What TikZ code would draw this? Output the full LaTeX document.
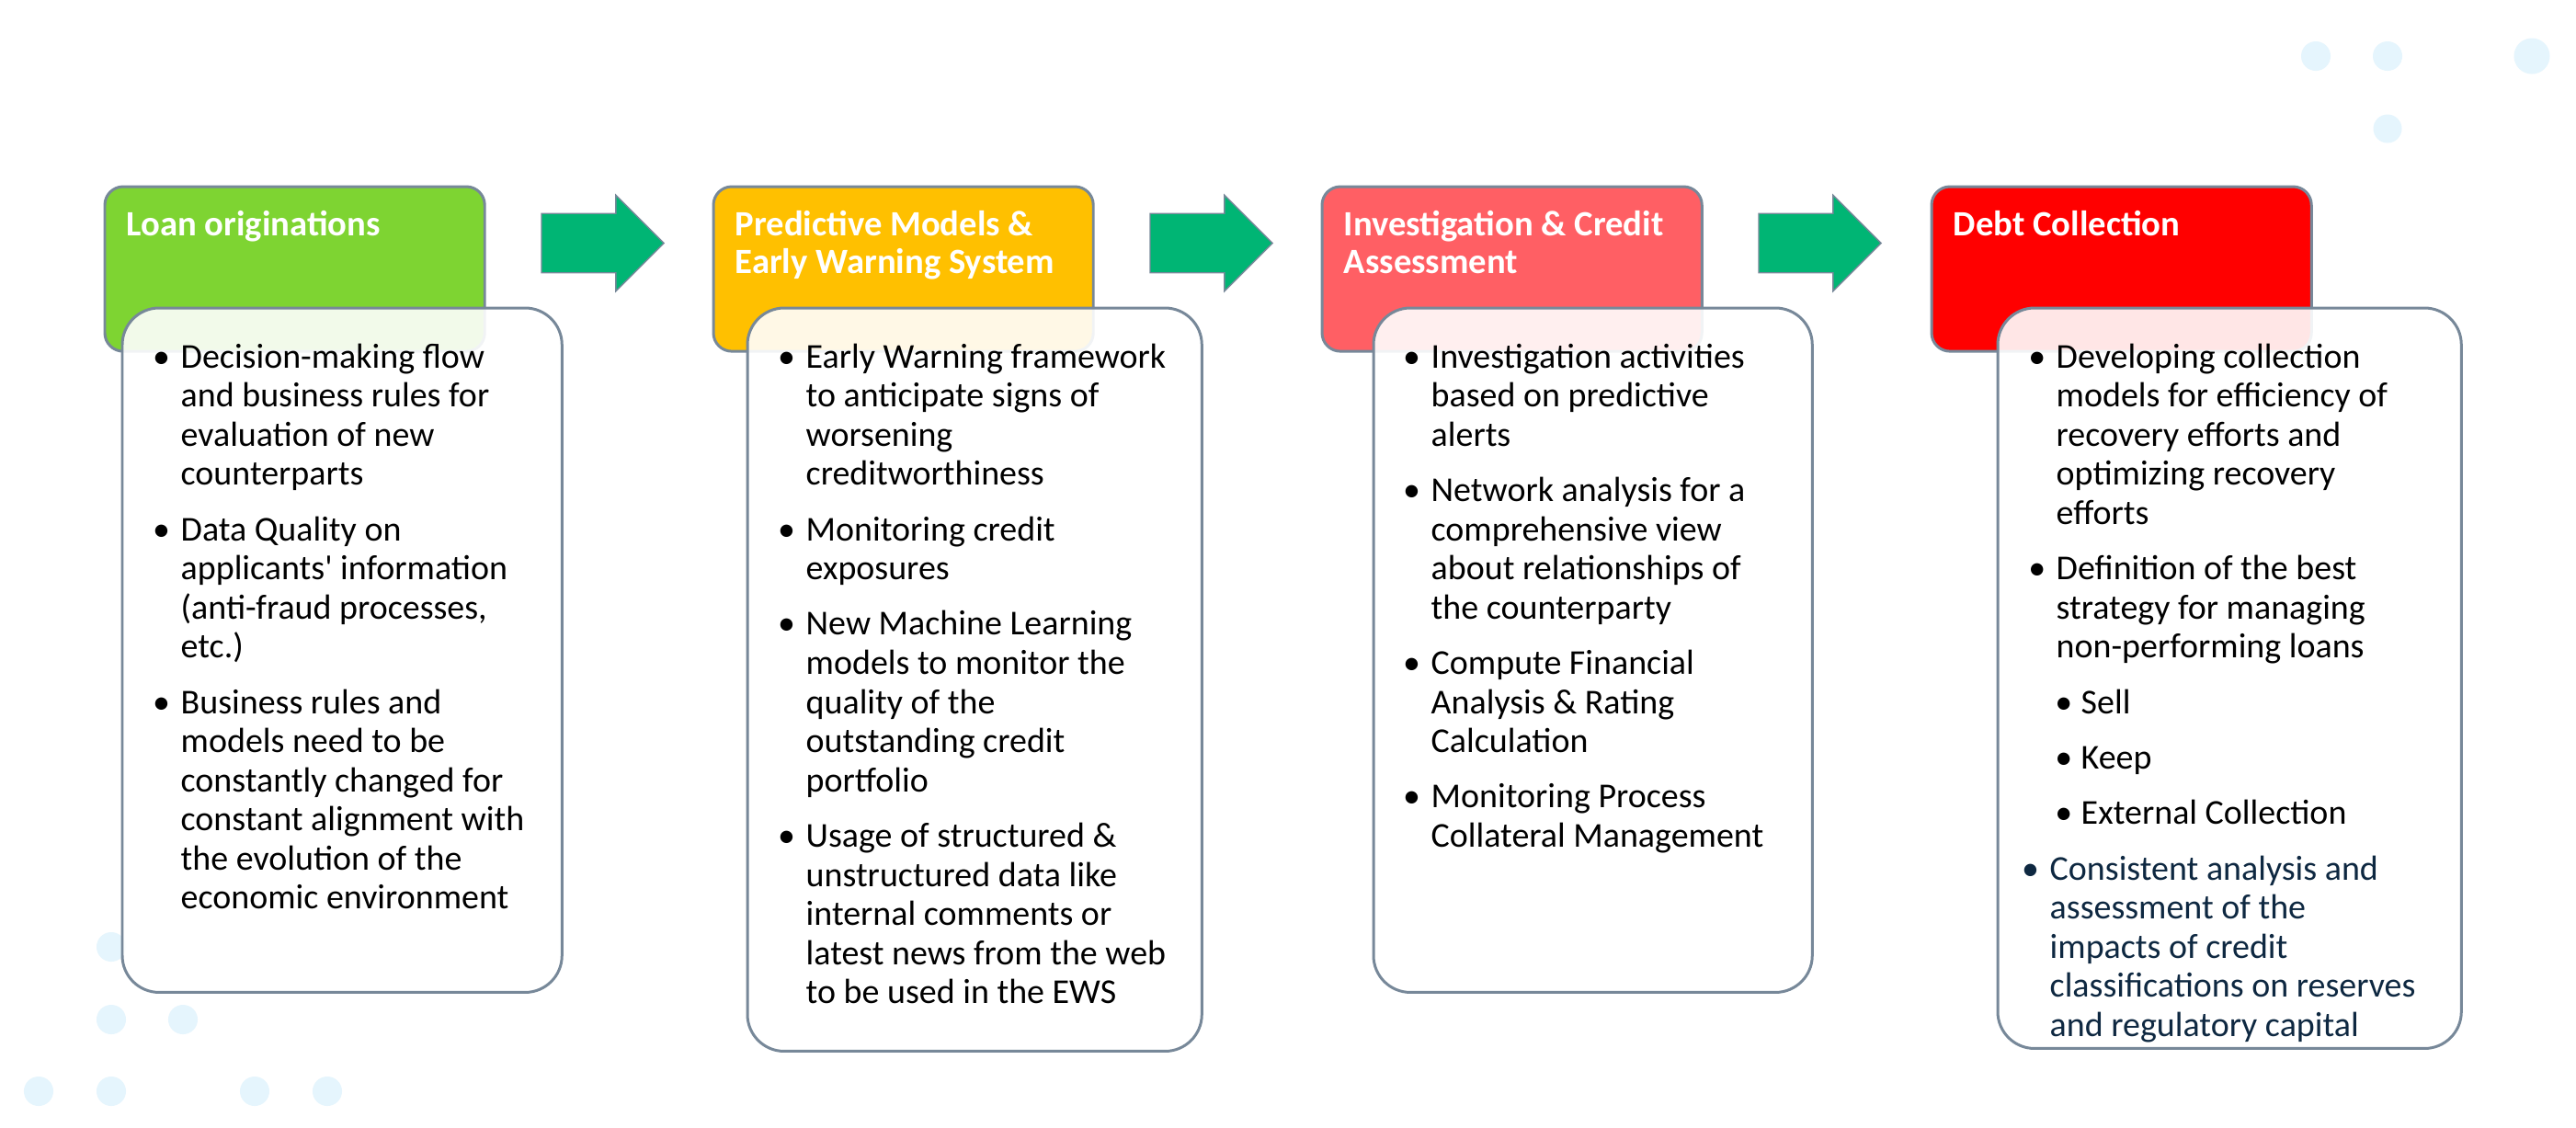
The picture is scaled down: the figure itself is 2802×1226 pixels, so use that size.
\documentclass[tikz,border=0pt]{standalone}
\usepackage{fontspec}
\setmainfont{Carlito}
\usetikzlibrary{shapes.arrows}
\definecolor{edge}{HTML}{778899}
\definecolor{cgreen}{HTML}{7ED432}
\definecolor{cgold}{HTML}{FFC000}
\definecolor{csalmon}{HTML}{FF5F64}
\definecolor{cred}{HTML}{FF0000}
\definecolor{carrow}{HTML}{00B574}
\definecolor{cdot}{HTML}{E5F5FD}
\definecolor{navy}{HTML}{0E2841}
\newcommand\bu{\llap{\makebox[0.42cm][c]{\textbullet}}}
\newcommand\sbu{\hspace{0.27cm}\llap{\makebox[0.38cm][c]{\textbullet}}}
\newcommand\nv{\hspace{-0.07cm}}
\newcommand\gap{\\[5.1pt]}
\tikzset{
  hdr/.style={draw=edge, line width=0.85pt, rounded corners=0.2cm, minimum width=4.13cm,
    minimum height=1.79cm, anchor=north west, inner sep=0pt, outer sep=0pt},
  bodybox/.style={draw=edge, line width=0.85pt, rounded corners=0.4cm, fill=white,
    fill opacity=0.9, anchor=north west, inner sep=0pt, outer sep=0pt},
  hdrtxt/.style={anchor=base west, inner sep=0pt, text=white,
    font=\fontsize{11pt}{11.67pt}\selectfont\bfseries},
  bodytxt/.style={anchor=base west, inner sep=0pt, text=black,
    font=\fontsize{10.8pt}{12.09pt}\selectfont},
  blockarrow/.style={single arrow, draw=edge, line width=0.4pt, fill=carrow,
    minimum height=1.33cm, inner xsep=0pt, inner ysep=0.315cm,
    single arrow head extend=0.2cm, single arrow tip angle=90, outer sep=0pt,
    anchor=tail},
  dot/.style={circle, fill=cdot, draw=none, inner sep=0pt, minimum size=0.32cm}
}
\begin{document}
\begin{tikzpicture}[x=0.01cm, y=-0.01cm]
\useasboundingbox (0,0) rectangle (2802,1226);
\fill[white] (0,0) rectangle (2802,1226);

% decorative dots
\node[dot] (d1) at (121,1030) {};
\node[dot] (d2) at (121,1109) {};
\node[dot] (d3) at (199,1109) {};
\node[dot] (d4) at (42,1187) {};
\node[dot] (d5) at (121,1187) {};
\node[dot] (d6) at (277,1187) {};
\node[dot] (d7) at (356,1187) {};
\node[dot] (d8) at (2519,61) {};
\node[dot] (d9) at (2597,61) {};
\node[dot, minimum size=0.39cm] (d10) at (2754,61) {};
\node[dot, minimum size=0.31cm] (d11) at (2597,140) {};

% headers
\node[hdr, fill=cgreen]  (h1) at (114,203) {};
\node[hdr, fill=cgold]   (h2) at (776,203) {};
\node[hdr, fill=csalmon] (h3) at (1438,203) {};
\node[hdr, fill=cred]    (h4) at (2101,203) {};

\node[hdrtxt] (ht1) at ([shift={(23,53)}]h1.north west) {Loan originations};
\node[hdrtxt] (ht2) at ([shift={(23,53)}]h2.north west)
  {\begin{tabular}[t]{@{}l@{}}Predictive Models \&\\Early Warning System\end{tabular}};
\node[hdrtxt] (ht3) at ([shift={(23,53)}]h3.north west)
  {\begin{tabular}[t]{@{}l@{}}Investigation \& Credit\\Assessment\end{tabular}};
\node[hdrtxt] (ht4) at ([shift={(23,53)}]h4.north west) {Debt Collection};

% arrows
\node[blockarrow] (a1) at (589,264.5) {};
\node[blockarrow] (a2) at (1251,264.5) {};
\node[blockarrow] (a3) at (1913,264.5) {};

% body boxes
\node[bodybox, minimum width=4.78cm, minimum height=7.44cm] (b1) at (133,335) {};
\node[bodybox, minimum width=4.94cm, minimum height=8.08cm] (b2) at (813,335) {};
\node[bodybox, minimum width=4.77cm, minimum height=7.44cm] (b3) at (1494,335) {};
\node[bodybox, minimum width=5.04cm, minimum height=8.05cm] (b4) at (2173,335) {};

\node[bodytxt] (bt1) at ([shift={(63,65)}]b1.north west) {\begin{tabular}[t]{@{}l@{}}
\bu Decision-making flow\\
and business rules for\\
evaluation of new\\
counterparts\gap
\bu Data Quality on\\
applicants\textquotesingle\ information\\
(anti-fraud processes,\\
etc.)\gap
\bu Business rules and\\
models need to be\\
constantly changed for\\
constant alignment with\\
the evolution of the\\
economic environment
\end{tabular}};

\node[bodytxt] (bt2) at ([shift={(63,65)}]b2.north west) {\begin{tabular}[t]{@{}l@{}}
\bu Early Warning framework\\
to anticipate signs of\\
worsening\\
creditworthiness\gap
\bu Monitoring credit\\
exposures\gap
\bu New Machine Learning\\
models to monitor the\\
quality of the\\
outstanding credit\\
portfolio\gap
\bu Usage of structured \&\\
unstructured data like\\
internal comments or\\
latest news from the web\\
to be used in the EWS
\end{tabular}};

\node[bodytxt] (bt3) at ([shift={(62,65)}]b3.north west) {\begin{tabular}[t]{@{}l@{}}
\bu Investigation activities\\
based on predictive\\
alerts\gap
\bu Network analysis for a\\
comprehensive view\\
about relationships of\\
the counterparty\gap
\bu Compute Financial\\
Analysis \& Rating\\
Calculation\gap
\bu Monitoring Process\\
Collateral Management
\end{tabular}};

\node[bodytxt] (bt4) at ([shift={(63,65)}]b4.north west) {\begin{tabular}[t]{@{}l@{}}
\bu Developing collection\\
models for efficiency of\\
recovery efforts and\\
optimizing recovery\\
efforts\gap
\bu Definition of the best\\
strategy for managing\\
non-performing loans\gap
\sbu Sell\gap
\sbu Keep\gap
\sbu External Collection\gap
\color{navy}\nv\bu Consistent analysis and\\
\color{navy}\nv assessment of the\\
\color{navy}\nv impacts of credit\\
\color{navy}\nv classifications on reserves\\
\color{navy}\nv and regulatory capital
\end{tabular}};
\end{tikzpicture}
\end{document}
